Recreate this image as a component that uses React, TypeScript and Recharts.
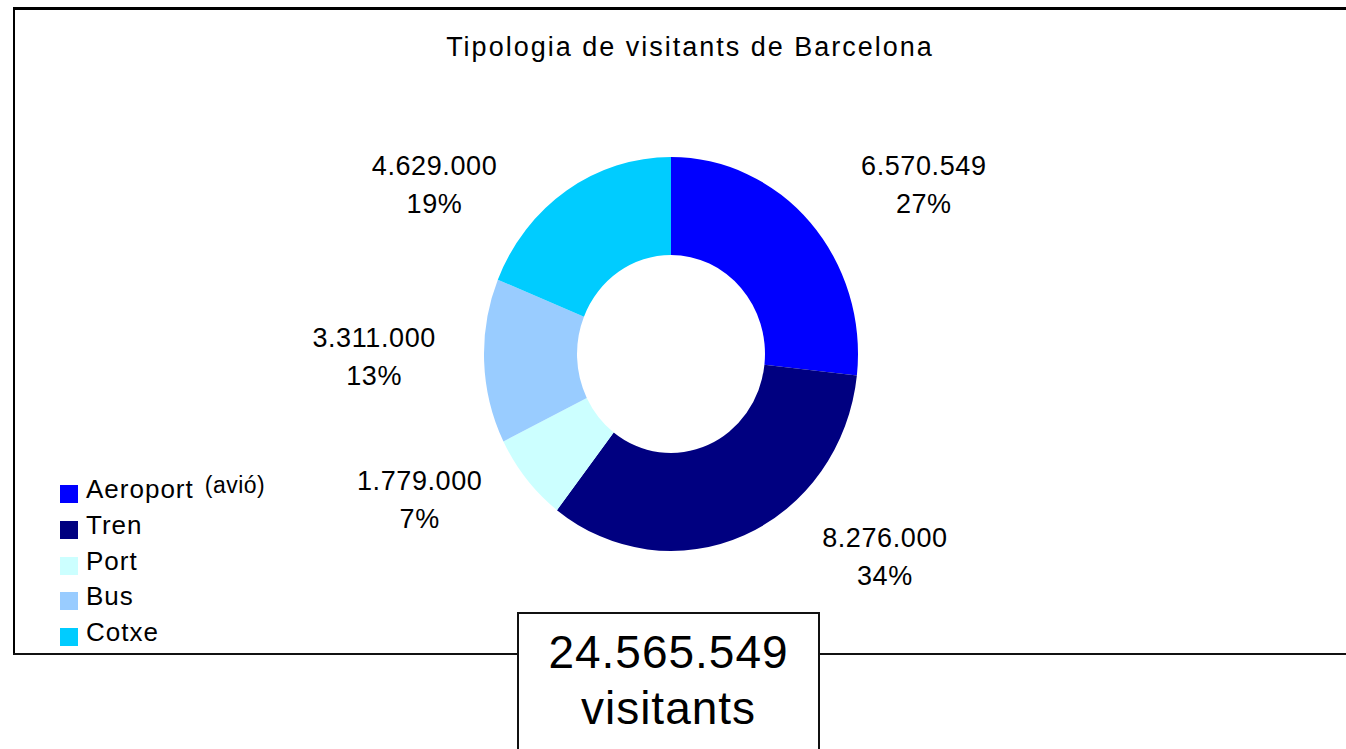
import { Legend, Pie, PieChart } from "recharts";

const categories = ["Aeroport", "Tren", "Port", "Bus", "Cotxe"];
const visitors = [6570549, 8276000, 1779000, 3311000, 4629000];
const legendNote = "(avió)";
const title = "Tipologia de visitants de Barcelona";
const totalSuffix = "visitants";

const colors = ["#0000FF", "#000080", "#CCFFFF", "#99CCFF", "#00CCFF"];
// small per-slice nudges so labels sit where Excel put them
const labelNudge = [
  [17, -14],
  [60, -10],
  [-9, -1],
  [-2, -5],
  [-44, 24],
];

const FONT = "'Liberation Sans', Arial, Helvetica, sans-serif";
const W = 1346;
const H = 749;
const CX = 671;
const CY = 354;

const data = categories.map((name, i) => ({ name, value: visitors[i], fill: colors[i] }));
const total = visitors.reduce((a, b) => a + b, 0);

function fmt(n: number) {
  return String(n).replace(/\B(?=(\d{3})+(?!\d))/g, ".");
}

function renderLabel(props: any) {
  const { cx, cy, midAngle, outerRadius, index, value } = props;
  const rad = (-midAngle * Math.PI) / 180;
  const r = outerRadius + 40;
  const c = Math.cos(rad);
  const x = cx + r * c + Math.sign(c) * 63 + labelNudge[index][0];
  const y = cy + r * Math.sin(rad) + labelNudge[index][1];
  return (
    <text textAnchor="middle" fill="#000" fontSize={27} fontFamily={FONT} letterSpacing={0.6}>
      <tspan x={x} y={y - 10}>
        {fmt(value)}
      </tspan>
      <tspan x={x} y={y + 28}>
        {Math.round((value / total) * 100)}%
      </tspan>
    </text>
  );
}

function LegendBox({ payload }: any) {
  return (
    <div style={{ fontFamily: FONT, fontSize: 26, color: "#000", letterSpacing: 1, textAlign: "left" }}>
      {(payload || []).map((item: any, i: number) => (
        <div key={i} style={{ position: "relative", height: 35.75, lineHeight: "35.75px", paddingLeft: 26 }}>
          <span
            style={{
              position: "absolute",
              left: 0,
              top: 13,
              width: 18,
              height: 18,
              background: item.color,
            }}
          />
          {item.value}
          {item.value === categories[0] && (
            <span style={{ fontSize: 23, marginLeft: 11, position: "relative", top: -5, letterSpacing: 0.5 }}>
              {legendNote}
            </span>
          )}
        </div>
      ))}
    </div>
  );
}

export default function App() {
  return (
    <div style={{ position: "absolute", left: 0, top: 0, width: W, height: H, background: "#fff", overflow: "hidden" }}>
      {/* the Excel donut is a touch taller than wide */}
      <style>{`.donut .recharts-pie-sector { transform: scale(0.974, 1.026); transform-origin: ${CX}px ${CY}px; }`}</style>

      {/* frame */}
      <div style={{ position: "absolute", left: 13, top: 7, width: W - 13, height: 3, background: "#000" }} />
      <div style={{ position: "absolute", left: 13, top: 7, width: 2, height: 648, background: "#000" }} />
      <div style={{ position: "absolute", left: 13, top: 653, width: W - 13, height: 2, background: "#111" }} />

      <div
        style={{
          position: "absolute",
          left: 0,
          width: W,
          top: 30,
          textAlign: "center",
          paddingLeft: 34,
          boxSizing: "border-box",
          fontFamily: FONT,
          fontSize: 27,
          letterSpacing: 2,
          lineHeight: "34px",
          color: "#000",
        }}
      >
        {title}
      </div>

      <div className="donut" style={{ position: "absolute", left: 0, top: 0 }}>
        <PieChart width={W} height={H} margin={{ top: 0, right: 0, bottom: 0, left: 0 }}>
          <Pie
            data={data}
            dataKey="value"
            nameKey="name"
            cx={CX}
            cy={CY}
            outerRadius={192}
            innerRadius={96.5}
            startAngle={90}
            endAngle={-270}
            stroke="none"
            label={renderLabel}
            labelLine={false}
            isAnimationActive={false}
          />
          <Legend
            layout="horizontal"
            align="center"
            verticalAlign="middle"
            itemSorter={(item: any) => categories.indexOf(item.value)}
            content={LegendBox}
            wrapperStyle={{ left: 60, top: 472, width: 260, height: 180 }}
          />
        </PieChart>
      </div>

      {/* total box */}
      <div
        style={{
          position: "absolute",
          left: 517,
          top: 612,
          width: 303,
          height: 160,
          boxSizing: "border-box",
          border: "2px solid #111",
          background: "#fff",
          fontFamily: FONT,
          fontSize: 46,
          letterSpacing: 1,
          lineHeight: "56px",
          textAlign: "center",
          color: "#000",
          paddingTop: 10,
        }}
      >
        <div>{fmt(total)}</div>
        <div>{totalSuffix}</div>
      </div>
    </div>
  );
}
